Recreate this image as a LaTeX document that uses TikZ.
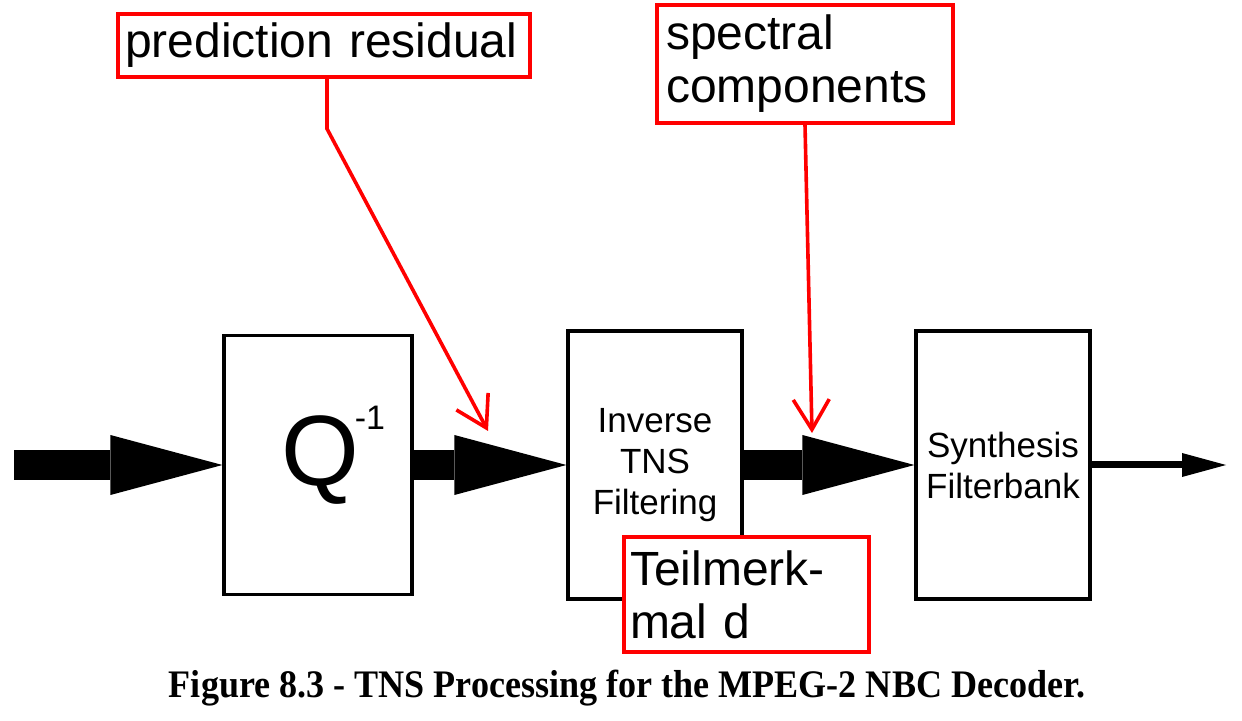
\documentclass[tikz,border=0pt]{standalone}
\usepackage{fontspec}
\setmainfont{Liberation Sans}
\newfontfamily\capfont{Liberation Serif}
\usetikzlibrary{arrows.meta}
\begin{document}
\begin{tikzpicture}[x=0.5pt, y=-0.5pt,
  block/.style={draw, line width=1.6pt, minimum width=87pt, minimum height=134pt, inner sep=0pt, align=center, font=\fontsize{17.5}{20.5}\selectfont},
  note/.style={draw=red, line width=1.8pt, fill=white, inner ysep=0pt, align=left, font=\fontsize{24}{26.5}\selectfont},
  fat/.style={line width=15pt, -{Triangle[length=56pt, width=30pt, line width=0pt]}},
  slim/.style={line width=3.5pt, -{Triangle[length=22pt, width=12pt, line width=0pt]}},
  pointer/.style={red, line width=1.8pt, -{Straight Barb[length=15pt, width=18pt]}}]

\useasboundingbox (0,0) rectangle (1242,721);

% blocks of the decoder
\node [block, minimum width=94pt, minimum height=129.5pt] (quant) at (318,465) {};
\node [font=\fontsize{50}{50}\selectfont] (qsym) at (320,460) {Q};
\node [font=\fontsize{17}{17}\selectfont] (qexp) at (370,418) {-1};
\node [block] (tns) at (655,465) {Inverse\\TNS\\Filtering};
\node [block] (synth) at (1003,465) {Synthesis\\Filterbank};

\coordinate (src) at (14,465);
\coordinate (sink) at (1226,465);

\draw [fat] (src) -- (quant.west);
\draw [fat] (quant.east) -- (tns.west);
\draw [fat] (tns.east) -- (synth.west);
\draw [slim] (synth.east) -- (sink);

% annotations
\node [note, inner xsep=3.5pt, text width=199pt, minimum height=31.5pt] (predres) at (324,45.5) {prediction residual};
\node [note, inner xsep=4.5pt, text width=139pt, minimum height=59pt] (speccomp) at (805,64) {spectral\\components};
\node [note, inner xsep=3pt, text width=116.5pt, minimum height=57.5pt] (teil) at (746.5,594.5) {Teilmerk-\\mal d};

\coordinate (residtip) at (488,431);
\coordinate (spectip) at (812,433);

\draw [pointer] ([xshift=1.5pt]predres.south) -- ++(0,50) -- (residtip);
\draw [pointer] (speccomp.south) -- (spectip);

\node [font=\capfont\bfseries\fontsize{19.5}{20}\selectfont] (caption) at (627,688) {\scalebox{0.925}[1]{Figure 8.3 - TNS Processing for the MPEG-2 NBC Decoder.}};
\end{tikzpicture}
\end{document}
